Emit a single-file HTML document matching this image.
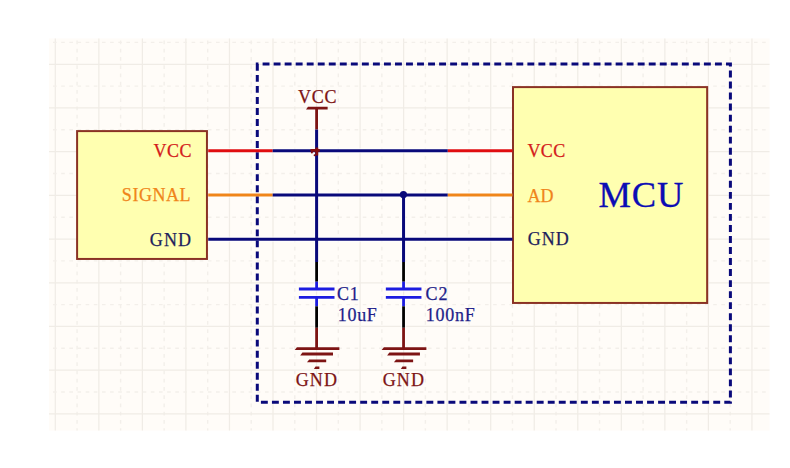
<!DOCTYPE html>
<html><head><meta charset="utf-8"><style>
html,body{margin:0;padding:0;background:#fff;width:790px;height:468px;overflow:hidden}
svg{display:block;font-family:"Liberation Serif", serif}
</style></head><body>
<svg width="790" height="468" viewBox="0 0 790 468">
<rect x="49" y="38.5" width="720.5" height="392.0" fill="#fffcf8"/>
<line x1="55.30" y1="38.5" x2="55.30" y2="430.5" stroke="#f0ece6" stroke-width="1.25"/>
<line x1="77.07" y1="38.5" x2="77.07" y2="430.5" stroke="#f3efea" stroke-width="1.4" stroke-dasharray="3.6 4.65" stroke-dashoffset="-2.05"/>
<line x1="98.84" y1="38.5" x2="98.84" y2="430.5" stroke="#f0ece6" stroke-width="1.25"/>
<line x1="120.61" y1="38.5" x2="120.61" y2="430.5" stroke="#f3efea" stroke-width="1.4" stroke-dasharray="3.6 4.65" stroke-dashoffset="-2.05"/>
<line x1="142.38" y1="38.5" x2="142.38" y2="430.5" stroke="#f0ece6" stroke-width="1.25"/>
<line x1="164.15" y1="38.5" x2="164.15" y2="430.5" stroke="#f3efea" stroke-width="1.4" stroke-dasharray="3.6 4.65" stroke-dashoffset="-2.05"/>
<line x1="185.92" y1="38.5" x2="185.92" y2="430.5" stroke="#f0ece6" stroke-width="1.25"/>
<line x1="207.69" y1="38.5" x2="207.69" y2="430.5" stroke="#f3efea" stroke-width="1.4" stroke-dasharray="3.6 4.65" stroke-dashoffset="-2.05"/>
<line x1="229.46" y1="38.5" x2="229.46" y2="430.5" stroke="#f0ece6" stroke-width="1.25"/>
<line x1="251.23" y1="38.5" x2="251.23" y2="430.5" stroke="#f3efea" stroke-width="1.4" stroke-dasharray="3.6 4.65" stroke-dashoffset="-2.05"/>
<line x1="273.00" y1="38.5" x2="273.00" y2="430.5" stroke="#f0ece6" stroke-width="1.25"/>
<line x1="294.77" y1="38.5" x2="294.77" y2="430.5" stroke="#f3efea" stroke-width="1.4" stroke-dasharray="3.6 4.65" stroke-dashoffset="-2.05"/>
<line x1="316.54" y1="38.5" x2="316.54" y2="430.5" stroke="#f0ece6" stroke-width="1.25"/>
<line x1="338.31" y1="38.5" x2="338.31" y2="430.5" stroke="#f3efea" stroke-width="1.4" stroke-dasharray="3.6 4.65" stroke-dashoffset="-2.05"/>
<line x1="360.08" y1="38.5" x2="360.08" y2="430.5" stroke="#f0ece6" stroke-width="1.25"/>
<line x1="381.85" y1="38.5" x2="381.85" y2="430.5" stroke="#f3efea" stroke-width="1.4" stroke-dasharray="3.6 4.65" stroke-dashoffset="-2.05"/>
<line x1="403.62" y1="38.5" x2="403.62" y2="430.5" stroke="#f0ece6" stroke-width="1.25"/>
<line x1="425.39" y1="38.5" x2="425.39" y2="430.5" stroke="#f3efea" stroke-width="1.4" stroke-dasharray="3.6 4.65" stroke-dashoffset="-2.05"/>
<line x1="447.16" y1="38.5" x2="447.16" y2="430.5" stroke="#f0ece6" stroke-width="1.25"/>
<line x1="468.93" y1="38.5" x2="468.93" y2="430.5" stroke="#f3efea" stroke-width="1.4" stroke-dasharray="3.6 4.65" stroke-dashoffset="-2.05"/>
<line x1="490.70" y1="38.5" x2="490.70" y2="430.5" stroke="#f0ece6" stroke-width="1.25"/>
<line x1="512.47" y1="38.5" x2="512.47" y2="430.5" stroke="#f3efea" stroke-width="1.4" stroke-dasharray="3.6 4.65" stroke-dashoffset="-2.05"/>
<line x1="534.24" y1="38.5" x2="534.24" y2="430.5" stroke="#f0ece6" stroke-width="1.25"/>
<line x1="556.01" y1="38.5" x2="556.01" y2="430.5" stroke="#f3efea" stroke-width="1.4" stroke-dasharray="3.6 4.65" stroke-dashoffset="-2.05"/>
<line x1="577.78" y1="38.5" x2="577.78" y2="430.5" stroke="#f0ece6" stroke-width="1.25"/>
<line x1="599.55" y1="38.5" x2="599.55" y2="430.5" stroke="#f3efea" stroke-width="1.4" stroke-dasharray="3.6 4.65" stroke-dashoffset="-2.05"/>
<line x1="621.32" y1="38.5" x2="621.32" y2="430.5" stroke="#f0ece6" stroke-width="1.25"/>
<line x1="643.09" y1="38.5" x2="643.09" y2="430.5" stroke="#f3efea" stroke-width="1.4" stroke-dasharray="3.6 4.65" stroke-dashoffset="-2.05"/>
<line x1="664.86" y1="38.5" x2="664.86" y2="430.5" stroke="#f0ece6" stroke-width="1.25"/>
<line x1="686.63" y1="38.5" x2="686.63" y2="430.5" stroke="#f3efea" stroke-width="1.4" stroke-dasharray="3.6 4.65" stroke-dashoffset="-2.05"/>
<line x1="708.40" y1="38.5" x2="708.40" y2="430.5" stroke="#f0ece6" stroke-width="1.25"/>
<line x1="730.17" y1="38.5" x2="730.17" y2="430.5" stroke="#f3efea" stroke-width="1.4" stroke-dasharray="3.6 4.65" stroke-dashoffset="-2.05"/>
<line x1="751.94" y1="38.5" x2="751.94" y2="430.5" stroke="#f0ece6" stroke-width="1.25"/>
<line x1="49" y1="42.40" x2="769.5" y2="42.40" stroke="#f3efea" stroke-width="1.4" stroke-dasharray="3.6 4.55" stroke-dashoffset="-4.05"/>
<line x1="49" y1="64.25" x2="769.5" y2="64.25" stroke="#f0ece6" stroke-width="1.25"/>
<line x1="49" y1="86.10" x2="769.5" y2="86.10" stroke="#f3efea" stroke-width="1.4" stroke-dasharray="3.6 4.55" stroke-dashoffset="-4.05"/>
<line x1="49" y1="107.95" x2="769.5" y2="107.95" stroke="#f0ece6" stroke-width="1.25"/>
<line x1="49" y1="129.80" x2="769.5" y2="129.80" stroke="#f3efea" stroke-width="1.4" stroke-dasharray="3.6 4.55" stroke-dashoffset="-4.05"/>
<line x1="49" y1="151.65" x2="769.5" y2="151.65" stroke="#f0ece6" stroke-width="1.25"/>
<line x1="49" y1="173.50" x2="769.5" y2="173.50" stroke="#f3efea" stroke-width="1.4" stroke-dasharray="3.6 4.55" stroke-dashoffset="-4.05"/>
<line x1="49" y1="195.35" x2="769.5" y2="195.35" stroke="#f0ece6" stroke-width="1.25"/>
<line x1="49" y1="217.20" x2="769.5" y2="217.20" stroke="#f3efea" stroke-width="1.4" stroke-dasharray="3.6 4.55" stroke-dashoffset="-4.05"/>
<line x1="49" y1="239.05" x2="769.5" y2="239.05" stroke="#f0ece6" stroke-width="1.25"/>
<line x1="49" y1="260.90" x2="769.5" y2="260.90" stroke="#f3efea" stroke-width="1.4" stroke-dasharray="3.6 4.55" stroke-dashoffset="-4.05"/>
<line x1="49" y1="282.75" x2="769.5" y2="282.75" stroke="#f0ece6" stroke-width="1.25"/>
<line x1="49" y1="304.60" x2="769.5" y2="304.60" stroke="#f3efea" stroke-width="1.4" stroke-dasharray="3.6 4.55" stroke-dashoffset="-4.05"/>
<line x1="49" y1="326.45" x2="769.5" y2="326.45" stroke="#f0ece6" stroke-width="1.25"/>
<line x1="49" y1="348.30" x2="769.5" y2="348.30" stroke="#f3efea" stroke-width="1.4" stroke-dasharray="3.6 4.55" stroke-dashoffset="-4.05"/>
<line x1="49" y1="370.15" x2="769.5" y2="370.15" stroke="#f0ece6" stroke-width="1.25"/>
<line x1="49" y1="392.00" x2="769.5" y2="392.00" stroke="#f3efea" stroke-width="1.4" stroke-dasharray="3.6 4.55" stroke-dashoffset="-4.05"/>
<line x1="49" y1="413.85" x2="769.5" y2="413.85" stroke="#f0ece6" stroke-width="1.25"/>
<g stroke="#fff" stroke-opacity="0.6"><line x1="208.2" y1="150.7" x2="272.7" y2="150.7" stroke-width="5.5"/><line x1="272.7" y1="150.7" x2="447.8" y2="150.7" stroke-width="5.6"/><line x1="447.8" y1="150.7" x2="512.5" y2="150.7" stroke-width="5.5"/><line x1="208.2" y1="195.05" x2="272.7" y2="195.05" stroke-width="5.5"/><line x1="272.7" y1="195.05" x2="447.8" y2="195.05" stroke-width="5.6"/><line x1="447.8" y1="195.05" x2="512.5" y2="195.05" stroke-width="5.5"/><line x1="208.2" y1="239.25" x2="512.5" y2="239.25" stroke-width="5.6"/><line x1="316.6" y1="108.1" x2="316.6" y2="129.6" stroke-width="5.4"/><line x1="316.6" y1="129.6" x2="316.6" y2="262" stroke-width="5.6"/><line x1="316.6" y1="262" x2="316.6" y2="281.7" stroke-width="5.4"/><line x1="316.6" y1="281.7" x2="316.6" y2="289" stroke-width="5.4"/><line x1="316.6" y1="297.4" x2="316.6" y2="306.3" stroke-width="5.4"/><line x1="316.6" y1="306.3" x2="316.6" y2="327.8" stroke-width="5.4"/><line x1="316.6" y1="327.8" x2="316.6" y2="348.5" stroke-width="5.4"/><line x1="298.90000000000003" y1="289.05" x2="334.5" y2="289.05" stroke-width="5.5"/><line x1="298.90000000000003" y1="297.4" x2="334.5" y2="297.4" stroke-width="5.5"/><line x1="403.55" y1="195.05" x2="403.55" y2="262" stroke-width="5.6"/><line x1="403.55" y1="262" x2="403.55" y2="281.7" stroke-width="5.4"/><line x1="403.55" y1="281.7" x2="403.55" y2="289" stroke-width="5.4"/><line x1="403.55" y1="297.4" x2="403.55" y2="306.3" stroke-width="5.4"/><line x1="403.55" y1="306.3" x2="403.55" y2="327.8" stroke-width="5.4"/><line x1="403.55" y1="327.8" x2="403.55" y2="348.5" stroke-width="5.4"/><line x1="385.85" y1="289.05" x2="421.45" y2="289.05" stroke-width="5.5"/><line x1="385.85" y1="297.4" x2="421.45" y2="297.4" stroke-width="5.5"/></g>
<path d="M257.3 63.9H730.4V402.3H257.3Z" fill="none" stroke="#09097a" stroke-width="3" stroke-dasharray="6.9 4.133" stroke-dashoffset="-5.3"/>
<rect x="77.1" y="131.1" width="129.85" height="127.85" fill="#ffffb0" stroke="#8a3224" stroke-width="2"/>
<rect x="513" y="87.1" width="194.15" height="215.85" fill="#ffffb0" stroke="#8a3224" stroke-width="2"/>
<line x1="208.2" y1="150.7" x2="272.7" y2="150.7" stroke="#e00d10" stroke-width="2.9"/>
<line x1="272.7" y1="150.7" x2="447.8" y2="150.7" stroke="#09097a" stroke-width="3"/>
<line x1="447.8" y1="150.7" x2="512.5" y2="150.7" stroke="#e00d10" stroke-width="2.9"/>
<line x1="208.2" y1="195.05" x2="272.7" y2="195.05" stroke="#f0851a" stroke-width="2.9"/>
<line x1="272.7" y1="195.05" x2="447.8" y2="195.05" stroke="#09097a" stroke-width="3"/>
<line x1="447.8" y1="195.05" x2="512.5" y2="195.05" stroke="#f0851a" stroke-width="2.9"/>
<line x1="208.2" y1="239.25" x2="512.5" y2="239.25" stroke="#09097a" stroke-width="3"/>
<line x1="316.6" y1="108.1" x2="316.6" y2="129.6" stroke="#7d1414" stroke-width="2.8"/>
<line x1="316.6" y1="129.6" x2="316.6" y2="262" stroke="#09097a" stroke-width="3"/>
<line x1="316.6" y1="262" x2="316.6" y2="281.7" stroke="#000000" stroke-width="2.8"/>
<line x1="316.6" y1="281.7" x2="316.6" y2="289" stroke="#1c1ce0" stroke-width="2.8"/>
<line x1="316.6" y1="297.4" x2="316.6" y2="306.3" stroke="#1c1ce0" stroke-width="2.8"/>
<line x1="316.6" y1="306.3" x2="316.6" y2="327.8" stroke="#000000" stroke-width="2.8"/>
<line x1="316.6" y1="327.8" x2="316.6" y2="348.5" stroke="#7d1414" stroke-width="2.8"/>
<line x1="298.90000000000003" y1="289.05" x2="334.5" y2="289.05" stroke="#1c1ce0" stroke-width="2.9"/>
<line x1="298.90000000000003" y1="297.4" x2="334.5" y2="297.4" stroke="#1c1ce0" stroke-width="2.9"/>
<path d="M296.90 347.15H339.40V349.95H294.70Z" fill="#7d1414"/>
<path d="M302.40 352.60H333.00V355.40H300.20Z" fill="#7d1414"/>
<path d="M309.20 359.50H326.20V362.30H307.00Z" fill="#7d1414"/>
<path d="M315.50 366.40H319.40V369.00H313.90Z" fill="#7d1414"/>
<line x1="403.55" y1="195.05" x2="403.55" y2="262" stroke="#09097a" stroke-width="3"/>
<line x1="403.55" y1="262" x2="403.55" y2="281.7" stroke="#000000" stroke-width="2.8"/>
<line x1="403.55" y1="281.7" x2="403.55" y2="289" stroke="#1c1ce0" stroke-width="2.8"/>
<line x1="403.55" y1="297.4" x2="403.55" y2="306.3" stroke="#1c1ce0" stroke-width="2.8"/>
<line x1="403.55" y1="306.3" x2="403.55" y2="327.8" stroke="#000000" stroke-width="2.8"/>
<line x1="403.55" y1="327.8" x2="403.55" y2="348.5" stroke="#7d1414" stroke-width="2.8"/>
<line x1="385.85" y1="289.05" x2="421.45" y2="289.05" stroke="#1c1ce0" stroke-width="2.9"/>
<line x1="385.85" y1="297.4" x2="421.45" y2="297.4" stroke="#1c1ce0" stroke-width="2.9"/>
<path d="M383.85 347.15H426.35V349.95H381.65Z" fill="#7d1414"/>
<path d="M389.35 352.60H419.95V355.40H387.15Z" fill="#7d1414"/>
<path d="M396.15 359.50H413.15V362.30H393.95Z" fill="#7d1414"/>
<path d="M402.45 366.40H406.35V369.00H400.85Z" fill="#7d1414"/>
<circle cx="403.45" cy="194.6" r="3.6" fill="#09097a"/>
<path d="M310.5 150.45H319.8M316.8 147.5V155.4" stroke="#860e0e" stroke-width="2.8" fill="none"/>
<circle cx="311.9" cy="152.6" r="1.0" fill="#860e0e"/><circle cx="314.6" cy="155.3" r="1.0" fill="#860e0e"/>
<path d="M308.00 106.75H327.60V109.45H306.00Z" fill="#7d1414"/>
<text x="153.39" y="157.20" font-size="18" fill="#d41c1c" stroke="#d41c1c" stroke-width="0.25" letter-spacing="0.61">VCC</text>
<text x="121.83" y="201.46" font-size="18" fill="#f0851a" stroke="#f0851a" stroke-width="0.25" letter-spacing="0.54">SIGNAL</text>
<text x="149.86" y="245.86" font-size="18" fill="#1e1e5c" stroke="#1e1e5c" stroke-width="0.25" letter-spacing="1.11">GND</text>
<text x="527.39" y="157.37" font-size="18" fill="#d41c1c" stroke="#d41c1c" stroke-width="0.25" letter-spacing="0.38">VCC</text>
<text x="527.51" y="201.64" font-size="18" fill="#f0851a" stroke="#f0851a" stroke-width="0.25" letter-spacing="0.06">AD</text>
<text x="527.65" y="245.38" font-size="18" fill="#1e1e5c" stroke="#1e1e5c" stroke-width="0.25" letter-spacing="1.06">GND</text>
<text x="598.53" y="207.01" font-size="36.5" fill="#0c0cb4" stroke="#0c0cb4" stroke-width="0.3" letter-spacing="0.87">MCU</text>
<text x="298.08" y="102.88" font-size="18" fill="#7d1414" stroke="#7d1414" stroke-width="0.25" letter-spacing="0.69">VCC</text>
<text x="295.63" y="386.37" font-size="18" fill="#7d1414" stroke="#7d1414" stroke-width="0.25" letter-spacing="1.17">GND</text>
<text x="382.63" y="386.37" font-size="18" fill="#7d1414" stroke="#7d1414" stroke-width="0.25" letter-spacing="1.17">GND</text>
<text x="337.07" y="299.74" font-size="18" fill="#1e1e8a" stroke="#1e1e8a" stroke-width="0.25" letter-spacing="0.66">C1</text>
<text x="337.80" y="321.19" font-size="18" fill="#1e1e8a" stroke="#1e1e8a" stroke-width="0.25" letter-spacing="0.68">10uF</text>
<text x="425.58" y="299.52" font-size="18" fill="#1e1e8a" stroke="#1e1e8a" stroke-width="0.25" letter-spacing="1.02">C2</text>
<text x="425.70" y="321.37" font-size="18" fill="#1e1e8a" stroke="#1e1e8a" stroke-width="0.25" letter-spacing="0.76">100nF</text>
</svg>
</body></html>
